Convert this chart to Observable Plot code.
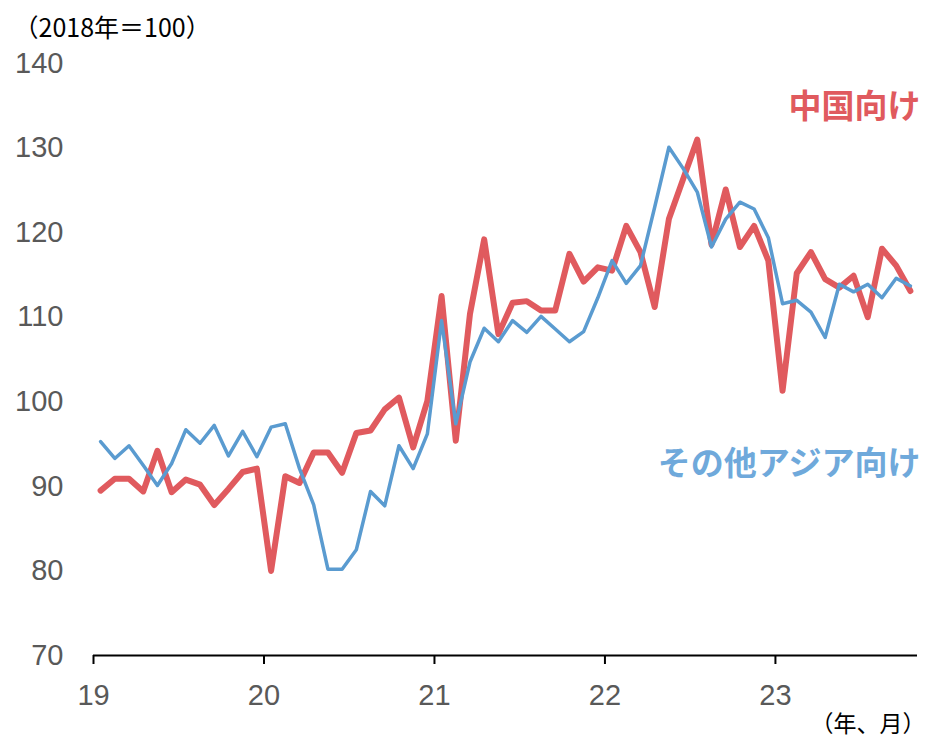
<!DOCTYPE html>
<html><head><meta charset="utf-8">
<script src="https://cdn.jsdelivr.net/npm/d3@7"></script>
<script src="https://cdn.jsdelivr.net/npm/@observablehq/plot@0.6"></script>
<style>html,body{margin:0;padding:0;background:#fff;overflow:hidden}</style>
</head><body><div id="chart"></div>
<script>
// Monthly index, Jan 2019 – Oct 2023 (2018 = 100)
const yearLabels = ["19", "20", "21", "22", "23"];
const yTicks = [70, 80, 90, 100, 110, 120, 130, 140];
const china = [
  89.5, 90.9, 90.9, 89.4, 94.2, 89.3, 90.8, 90.2, 87.8, 89.7, 91.7, 92.1,
  80.0, 91.2, 90.4, 94.0, 94.0, 91.6, 96.3, 96.6, 99.1, 100.5, 94.6, 100.1,
  112.5, 95.4, 110.4, 119.2, 108.0, 111.7, 111.9, 110.8, 110.8, 117.5, 114.2, 115.9,
  115.5, 120.8, 117.7, 111.2, 121.6, 126.3, 131.0, 118.6, 125.1, 118.3, 120.8, 116.7,
  101.3, 115.2, 117.7, 114.5, 113.5, 114.9, 110.0, 118.1, 116.1, 113.1
];
const otherAsia = [
  95.3, 93.3, 94.8, 92.5, 90.1, 92.7, 96.7, 95.1, 97.2, 93.6, 96.5, 93.5,
  97.0, 97.4, 92.1, 87.8, 80.2, 80.2, 82.5, 89.4, 87.7, 94.8, 92.1, 96.2,
  109.6, 97.4, 104.7, 108.7, 107.1, 109.6, 108.2, 110.1, 108.6, 107.1, 108.3, 112.3,
  116.7, 114.0, 116.1, 123.0, 130.1, 127.6, 124.8, 118.3, 121.6, 123.6, 122.8, 119.4,
  111.6, 112.0, 110.6, 107.6, 113.9, 113.0, 113.9, 112.3, 114.6, 113.7
];
const seriesNames = ["中国向け", "その他アジア向け"];
const seriesLabelY = [134.8, 92.6];
const unitLabel = "（2018年＝100）";
const xUnitLabel = "（年、月）";

const RED = "#e05a5e", BLUE = "#5a9bd0", BLUE_TEXT = "#6fa9db";
const CJK = "'Noto Sans CJK JP', 'Noto Sans', sans-serif";
const NUM = "'Liberation Sans', Arial, sans-serif";

const toRows = arr => arr.map((v, i) => ({x: i + 0.5, v}));
const chinaRows = toRows(china);
const asiaRows = toRows(otherAsia);
const yearTicks = yearLabels.map((_, i) => i * 12);
const nMonths = china.length;

const chart = Plot.plot({
  width: 926,
  height: 741,
  marginLeft: 93,
  marginRight: 9,
  marginTop: 63,
  marginBottom: 86,
  style: {background: "#fff", overflow: "visible"},
  x: {domain: [0, nMonths], axis: null},
  y: {domain: [70, 140], axis: null},
  marks: [
    Plot.axisY({ticks: yTicks, tickSize: 0, tickPadding: 30, fontSize: 29, fill: "#595959",
      fontFamily: NUM, label: null}),
    Plot.ruleY([70], {stroke: "#000", strokeWidth: 2}),
    Plot.axisX({ticks: yearTicks, tickFormat: (d, i) => yearLabels[i], tickSize: 9,
      strokeWidth: 2, stroke: "#000", tickPadding: 20, fontSize: 29, fill: "#595959",
      fontFamily: NUM, label: null}),
    Plot.line(chinaRows, {x: "x", y: "v", stroke: RED, strokeWidth: 6, strokeLinejoin: "round"}),
    Plot.line(asiaRows, {x: "x", y: "v", stroke: BLUE, strokeWidth: 3.5, strokeLinejoin: "round"}),
    Plot.text([seriesNames[0]], {x: nMonths, y: seriesLabelY[0], text: d => d, textAnchor: "end",
      dx: 3, fill: RED, fontSize: 33, fontWeight: "bold", fontFamily: CJK}),
    Plot.text([seriesNames[1]], {x: nMonths, y: seriesLabelY[1], text: d => d, textAnchor: "end",
      dx: 3, fill: BLUE_TEXT, fontSize: 33, fontWeight: "bold", fontFamily: CJK}),
    Plot.text([unitLabel], {frameAnchor: "top-left", text: d => d, textAnchor: "start",
      dx: -80, dy: -44, fill: "#000", fontSize: 25, fontFamily: CJK}),
    Plot.text([xUnitLabel], {frameAnchor: "bottom-right", text: d => d, textAnchor: "end",
      dx: 8, dy: 76, fill: "#000", fontSize: 23, fontFamily: CJK})
  ]
});
chart.style.display = "block";
document.getElementById("chart").appendChild(chart);
</script>
</body></html>
